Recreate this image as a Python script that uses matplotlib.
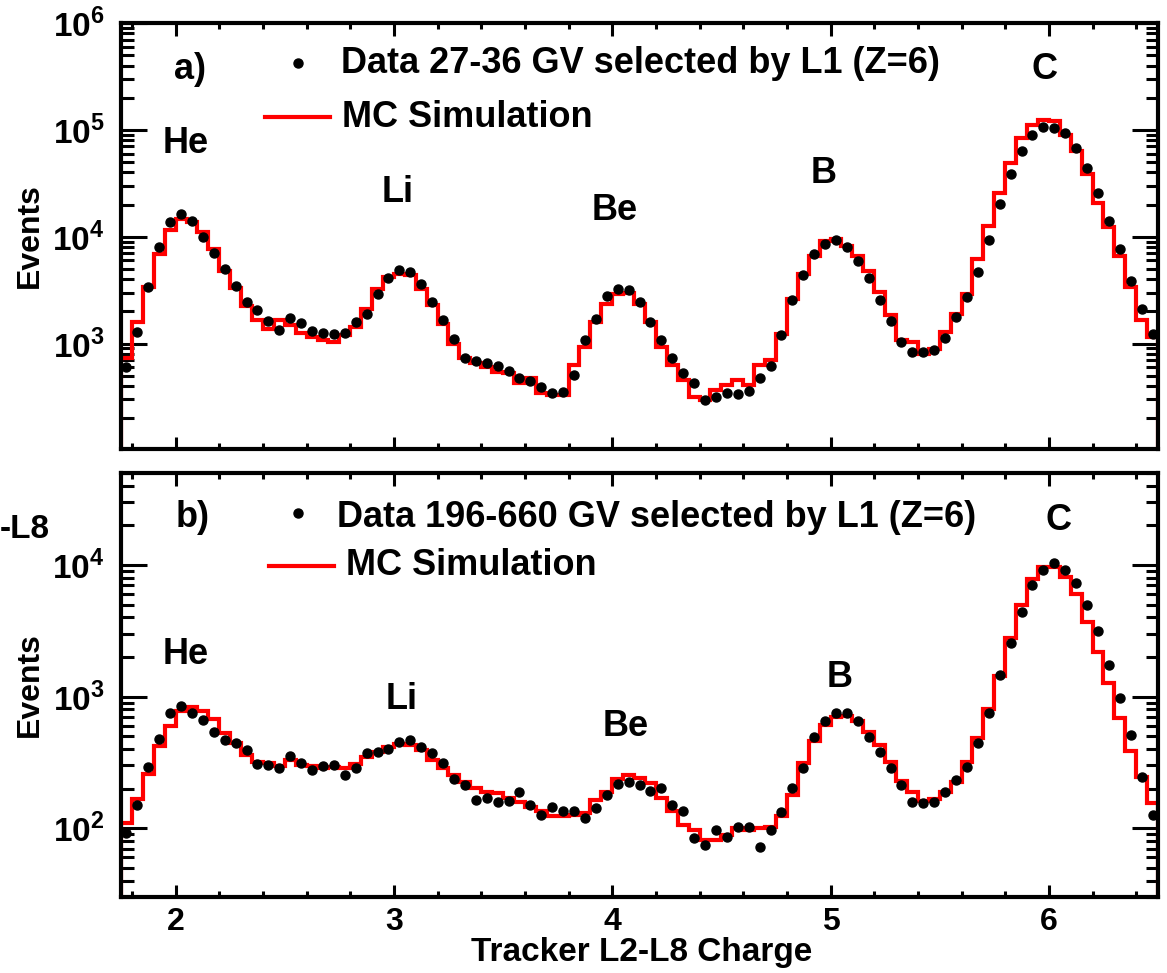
import matplotlib.pyplot as plt
import numpy as np
from matplotlib.ticker import FixedLocator, MultipleLocator, LogLocator, NullFormatter, FuncFormatter

plt.rcParams['font.family'] = 'Liberation Sans'
plt.rcParams['font.weight'] = 'bold'
plt.rcParams['mathtext.fontset'] = 'custom'
plt.rcParams['mathtext.rm'] = 'Liberation Sans:bold'
plt.rcParams['mathtext.bf'] = 'Liberation Sans:bold'

# charge bins, width 0.05 from 1.75 to 6.5
edges = np.round(np.arange(1.75, 6.5001, 0.05), 3)
centers = edges[:-1] + 0.025

# a) 27-36 GV
mc_a = [725, 1592, 3420, 6895, 11530, 14610, 13600, 11130, 7675, 4820,
        3325, 2227, 1650, 1380, 1650, 1482, 1257, 1154, 1090, 1036,
        1196, 1430, 2119, 3253, 4180, 4488, 4425, 3253, 2276, 1536,
        1000, 725, 651, 606, 545, 525, 424, 472, 342, 330,
        330, 628, 931, 1592, 2359, 2923, 2965, 2359, 1592, 931,
        628, 455, 318, 296, 367, 409, 455, 409, 628, 699,
        1239, 2626, 4488, 6653, 9178, 9512, 8245, 6653, 4820, 3029,
        1837, 1074, 1036, 807, 898, 1284, 1903, 2923, 6193, 12660,
        25880, 49260, 84260, 112100, 124800, 120400, 90470, 63280, 38370, 20890,
        12220, 6653, 3373, 1650, 1154]
data_a = [606, 1284, 3373, 8070, 13600, 16260, 14100, 9858, 6995, 4997,
          3422, 2445, 2045, 1626, 1350, 1747, 1558, 1312, 1257, 1222,
          1257, 1592, 1903, 2923, 4120, 4891, 4652, 3622, 2445, 1673,
          1113, 725, 689, 651, 615, 556, 472, 449, 395, 342,
          354, 507, 1074, 1710, 2761, 3253, 3185, 2445, 1592, 1090,
          725, 533, 424, 296, 318, 347, 337, 362, 472, 615,
          1196, 2534, 4425, 6895, 8546, 9309, 7955, 5891, 4120, 2570,
          1626, 1036, 836, 836, 867, 1137, 1772, 2721, 4652, 9309,
          20150, 38910, 63280, 90470, 105900, 104400, 93760, 67960, 44260, 25880,
          14100, 7675, 3890, 2119, 1239]

# b) 196-660 GV
mc_b = [109, 166, 259, 422, 599, 783, 830, 783, 673, 527,
        442, 361, 321, 312, 297, 327, 303, 297, 286, 294,
        286, 308, 346, 376, 417, 437, 430, 393, 330, 286,
        254, 226, 201, 190, 184, 169, 159, 146, 134, 123,
        123, 126, 130, 164, 190, 236, 254, 240, 220, 169,
        134, 106, 97, 82, 82, 89, 100, 97, 100, 103,
        123, 179, 312, 463, 609, 705, 713, 657, 542, 430,
        321, 230, 187, 162, 166, 190, 226, 321, 482, 801,
        1435, 2773, 4969, 7783, 9712, 9712, 8154, 6022, 3711, 2197,
        1263, 684, 389, 247, 155]
data_b = [92, 150, 294, 474, 747, 849, 747, 665, 542, 469,
          442, 393, 308, 303, 286, 354, 315, 277, 297, 303,
          254, 286, 371, 382, 398, 455, 469, 417, 371, 312,
          236, 213, 164, 169, 159, 162, 190, 150, 126, 146,
          134, 136, 119, 142, 179, 217, 226, 213, 193, 201,
          150, 136, 84, 75, 97, 86, 103, 103, 72, 97,
          132, 201, 286, 497, 657, 756, 756, 657, 497, 382,
          286, 213, 159, 155, 159, 190, 233, 294, 442, 756,
          1460, 2571, 4422, 7050, 9162, 10410, 9162, 7259, 4969, 3171,
          1740, 971, 512, 247, 126]

fig = plt.figure(figsize=(11.67, 9.73), dpi=100)
ax_a = fig.add_axes([0.1037, 0.5385, 0.8886, 0.4378])
ax_b = fig.add_axes([0.1037, 0.0781, 0.8886, 0.4358])


def style(ax, ylo, yhi, decades):
    ax.set_xlim(1.75, 6.5)
    ax.set_yscale('log')
    ax.set_ylim(ylo, yhi)
    ax.xaxis.set_major_locator(FixedLocator([2, 3, 4, 5, 6]))
    ax.xaxis.set_minor_locator(MultipleLocator(0.2))
    ax.yaxis.set_major_locator(FixedLocator(decades))
    ax.yaxis.set_minor_locator(LogLocator(subs=np.arange(2, 10), numticks=20))
    ax.yaxis.set_minor_formatter(NullFormatter())
    ax.yaxis.set_major_formatter(FuncFormatter(lambda v, p: r'$10^{%d}$' % round(np.log10(v))))
    ax.tick_params(which='both', direction='in', top=True, right=True, width=2.2, colors='black')
    ax.tick_params(axis='x', which='major', length=9, pad=7, labelsize=23)
    ax.tick_params(axis='x', which='minor', length=4.5)
    ax.tick_params(axis='y', which='major', length=19, pad=12, labelsize=24)
    ax.tick_params(axis='y', which='minor', length=9)
    for s in ax.spines.values():
        s.set_linewidth(3)
        s.set_zorder(5)
    ax.text(-0.088, 0.5, 'Events', transform=ax.transAxes, rotation=90,
            ha='center', va='center', fontsize=23)


def draw(ax, mc, data, ylo):
    ax.stairs(mc, edges, baseline=ylo / 10, color='red', lw=3, zorder=2)
    ax.plot(centers, data, 'o', color='black', ms=6.5, zorder=3)


def legend(ax, label, dot_xy, text_xy, line_x, line_y, mc_xy):
    ax.plot([dot_xy[0]], [dot_xy[1]], 'o', color='black', ms=6.5,
            transform=ax.transAxes, clip_on=False)
    ax.text(text_xy[0], text_xy[1], label, transform=ax.transAxes,
            ha='left', va='center', fontsize=26)
    ax.plot(line_x, [line_y, line_y], color='red', lw=3,
            transform=ax.transAxes, clip_on=False)
    ax.text(mc_xy[0], mc_xy[1], 'MC Simulation', transform=ax.transAxes,
            ha='left', va='center', fontsize=26)


def peaks(ax, spots):
    for name, (x, y) in spots.items():
        ax.text(x, y, name, transform=ax.transAxes, ha='center', va='center', fontsize=26)


# top panel
style(ax_a, 103, 1e6, [1e3, 1e4, 1e5, 1e6])
draw(ax_a, mc_a, data_a, 103)
ax_a.tick_params(labelbottom=False)
legend(ax_a, 'Data 27-36 GV selected by L1 (Z=6)',
       (0.1707, 0.906), (0.2122, 0.906), [0.1393, 0.2011], 0.779, (0.2131, 0.779))
peaks(ax_a, {'a)': (0.0665, 0.890), 'He': (0.0622, 0.718), 'Li': (0.2671, 0.603),
             'Be': (0.4764, 0.561), 'B': (0.6779, 0.648), 'C': (0.891, 0.890)})

# bottom panel
style(ax_b, 30, 5e4, [1e2, 1e3, 1e4])
draw(ax_b, mc_b, data_b, 30)
legend(ax_b, 'Data 196-660 GV selected by L1 (Z=6)',
       (0.1707, 0.906), (0.2083, 0.894), [0.1427, 0.2054], 0.781, (0.217, 0.781))
peaks(ax_b, {'b)': (0.0694, 0.894), 'He': (0.0627, 0.571), 'Li': (0.271, 0.465),
             'Be': (0.487, 0.401), 'B': (0.6933, 0.5165), 'C': (0.9036, 0.889)})

fig.text(642 / 1167, 1 - 953 / 973, 'Tracker L2-L8 Charge', ha='center', va='center', fontsize=24)
fig.text(0.0, 1 - 530 / 973, '-L8', ha='left', va='center', fontsize=24)

fig.savefig('out.png', dpi=100)
